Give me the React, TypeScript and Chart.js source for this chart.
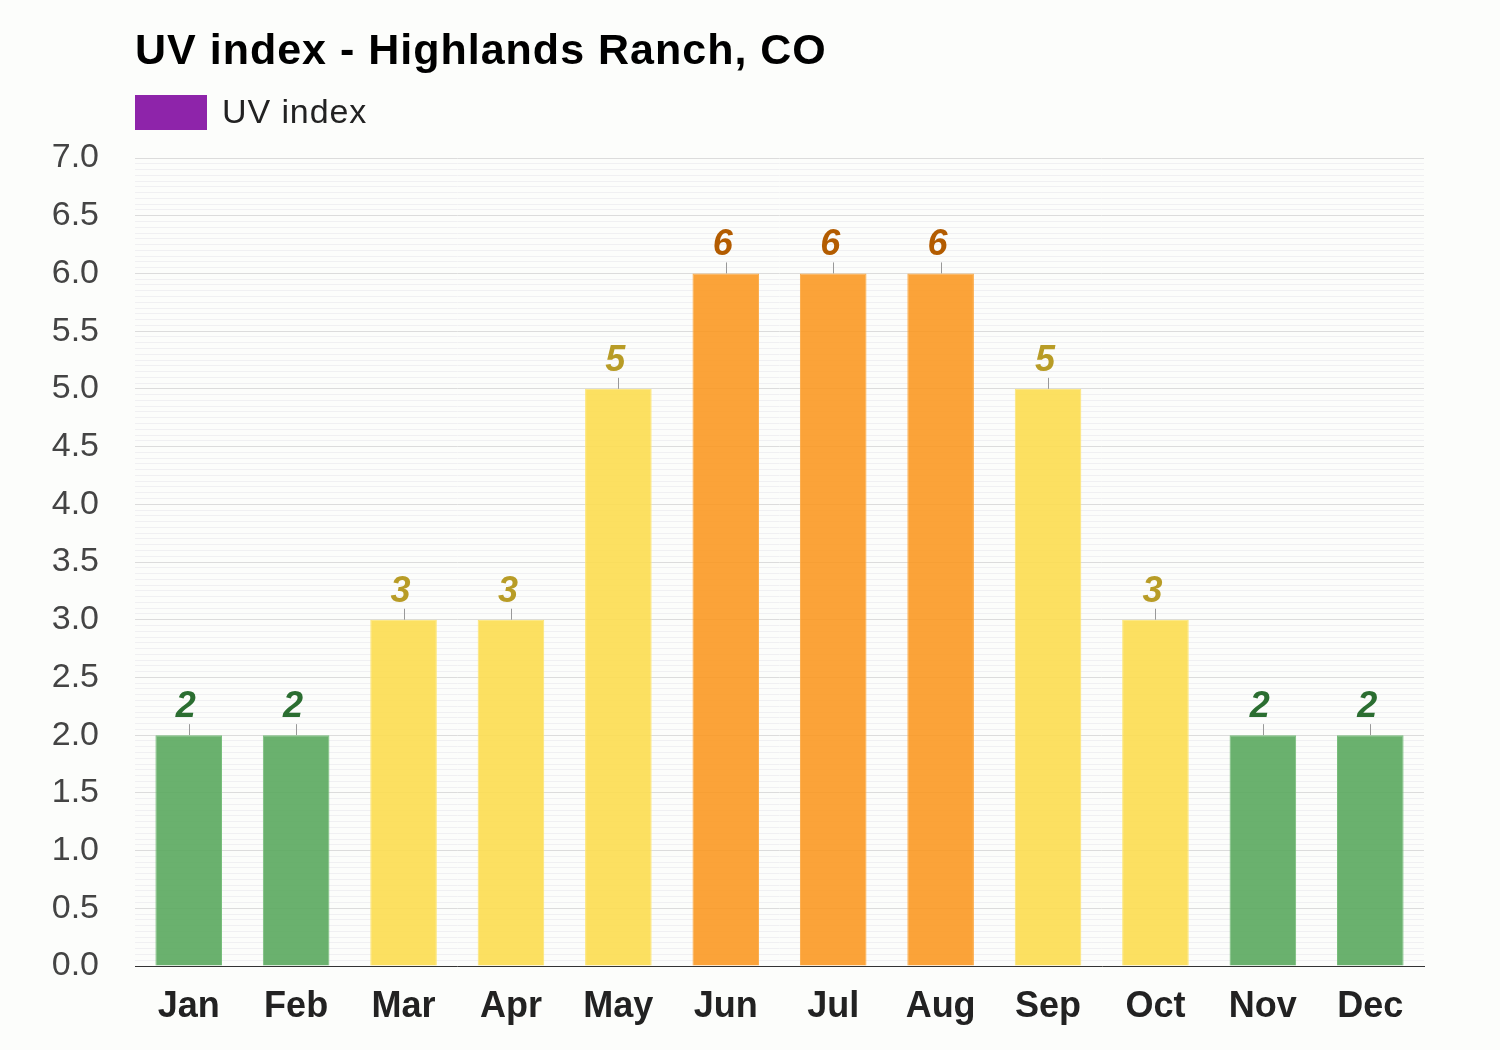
import React, { useEffect, useRef } from "react";
import { Chart, registerables } from "chart.js";

Chart.register(...registerables);

const months = ["Jan", "Feb", "Mar", "Apr", "May", "Jun", "Jul", "Aug", "Sep", "Oct", "Nov", "Dec"];
const uvValues = [2, 2, 3, 3, 5, 6, 6, 6, 5, 3, 2, 2];
const titleText = "UV index - Highlands Ranch, CO";
const legendLabel = "UV index";

const FONT = "'Liberation Sans', Arial, Helvetica, sans-serif";

function fillFor(v: number) {
  if (v <= 2) return "rgba(90,168,94,0.9)";
  if (v <= 5) return "rgba(252,221,80,0.9)";
  return "rgba(250,150,30,0.88)";
}
function borderFor(v: number) {
  if (v <= 2) return "rgba(120,190,124,1)";
  if (v <= 5) return "rgba(253,230,120,1)";
  return "rgba(252,170,70,1)";
}
function labelColorFor(v: number) {
  if (v <= 2) return "#2b6e31";
  if (v <= 5) return "#b89c26";
  return "#b35c00";
}

const decorPlugin = {
  id: "decor",
  beforeDraw(chart: any) {
    const ctx = chart.ctx;
    ctx.save();
    ctx.fillStyle = "#fcfdfb";
    ctx.fillRect(0, 0, chart.width, chart.height);
    ctx.restore();
  },
  afterDraw(chart: any) {
    const ctx = chart.ctx;
    ctx.save();
    ctx.fillStyle = "#000";
    ctx.font = `bold 43px ${FONT}`;
    ctx.textBaseline = "alphabetic";
    ctx.textAlign = "left";
    (ctx as any).letterSpacing = "1px";
    ctx.fillText(titleText, 135, 64);
    ctx.fillStyle = "#8e24aa";
    ctx.fillRect(135, 95, 72, 35);
    ctx.fillStyle = "#222";
    ctx.font = `34px ${FONT}`;
    (ctx as any).letterSpacing = "0.9px";
    ctx.fillText(legendLabel, 222, 123);
    (ctx as any).letterSpacing = "0px";

    const meta = chart.getDatasetMeta(0);
    meta.data.forEach((bar: any, i: number) => {
      const v = uvValues[i];
      ctx.strokeStyle = "#999";
      ctx.lineWidth = 1;
      ctx.beginPath();
      ctx.moveTo(Math.round(bar.x) + 0.5, bar.y);
      ctx.lineTo(Math.round(bar.x) + 0.5, bar.y - 11);
      ctx.stroke();
      ctx.fillStyle = labelColorFor(v);
      ctx.font = `italic bold 36px ${FONT}`;
      ctx.textAlign = "center";
      ctx.fillText(String(v), bar.x - 3, bar.y - 18);
    });
    ctx.restore();
  },
};

export default function App() {
  const ref = useRef<HTMLCanvasElement | null>(null);
  useEffect(() => {
    if (!ref.current) return;
    const chart = new Chart(ref.current, {
      type: "bar",
      data: {
        labels: months,
        datasets: [
          {
            label: legendLabel,
            data: uvValues,
            backgroundColor: uvValues.map(fillFor),
            borderColor: uvValues.map(borderFor),
            borderWidth: 1,
            barPercentage: 0.62,
            categoryPercentage: 1,
          },
        ],
      },
      options: {
        responsive: false,
        animation: false,
        layout: { padding: { left: 0, right: 76, top: 158, bottom: 0 } },
        plugins: { legend: { display: false }, title: { display: false }, tooltip: { enabled: false } },
        scales: {
          x: {
            grid: { display: false, drawTicks: false },
            border: { display: true, color: "#333", width: 1 },
            ticks: { color: "#222", font: { family: FONT, size: 36, weight: "bold" }, padding: 19 },
            afterFit(scale: any) {
              scale.height = 84;
            },
          },
          y: {
            min: 0,
            max: 7,
            border: { display: false },
            grid: {
              drawTicks: false,
              color: (c: any) => {
                const v = c.tick ? c.tick.value : 0;
                const r = Math.round(v * 100);
                return r % 50 === 0 ? "#dcdcdc" : "#f0f0f2";
              },
            },
            ticks: {
              stepSize: 0.05,
              autoSkip: false,
              maxTicksLimit: 500,
              padding: 36,
              color: "#444",
              font: { family: FONT, size: 34 },
              callback: (val: any) => {
                const r = Math.round(Number(val) * 100);
                return r % 50 === 0 ? (r / 100).toFixed(1) : "";
              },
            },
            afterFit(scale: any) {
              scale.width = 135;
            },
          },
        },
      },
      plugins: [decorPlugin],
    });
    return () => chart.destroy();
  }, []);
  return (
    <div style={{ position: "fixed", left: 0, top: 0, width: 1500, height: 1050 }}>
      <canvas ref={ref} width={1500} height={1050} style={{ width: 1500, height: 1050, display: "block" }} />
    </div>
  );
}
